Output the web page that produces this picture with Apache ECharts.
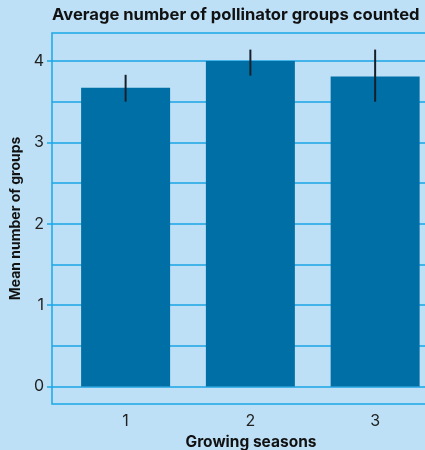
<!DOCTYPE html>
<html>
<head>
<meta charset="utf-8">
<script src="https://cdn.jsdelivr.net/npm/echarts@6/dist/echarts.min.js"></script>
<style>
  html, body { margin: 0; padding: 0; background: #bde0f6; }
  #chart { width: 425px; height: 450px; }
</style>
</head>
<body>
<div id="chart"></div>
<script>
// Growing seasons and mean pollinator groups counted, with error range
const seasons = [1, 2, 3];
const meanGroups = [3.67, 4.0, 3.81];
const errLow = [3.50, 3.82, 3.50];
const errHigh = [3.83, 4.14, 4.14];
const yTickValues = [0, 1, 2, 3, 4];
const gridValues = [0, 0.5, 1, 1.5, 2, 2.5, 3, 3.5, 4];

const lineBlue = '#1aa6e6';
const barBlue = '#006fa6';
const font = 'Inter, "Open Sans", sans-serif';

const chart = echarts.init(document.getElementById('chart'), null, { renderer: 'canvas' });

chart.setOption({
  backgroundColor: '#bde0f6',
  animation: false,
  title: {
    text: 'Average number of pollinator groups counted',
    left: 52,
    top: 6,
    padding: 0,
    textStyle: { fontFamily: font, fontSize: 16.6, fontWeight: 'bold', color: '#111' }
  },
  grid: {
    left: 52, top: 33, right: -25, bottom: 46,
    outerBoundsMode: 'none',
    containLabel: false,
    show: true,
    borderColor: lineBlue,
    borderWidth: 1.5,
    backgroundColor: 'transparent'
  },
  xAxis: {
    type: 'value',
    min: 0.41,
    max: 3.6,
    name: 'Growing seasons',
    nameLocation: 'middle',
    nameGap: 25,
    nameTextStyle: { fontFamily: font, fontSize: 15.5, fontWeight: 'bold', color: '#111' },
    axisLine: { show: false },
    axisTick: { show: false },
    splitLine: { show: false },
    axisLabel: {
      customValues: seasons,
      margin: 9,
      fontFamily: font, fontSize: 16, color: '#222'
    }
  },
  yAxis: {
    type: 'value',
    min: -0.216,
    max: 4.344,
    name: 'Mean number of groups',
    nameLocation: 'middle',
    nameGap: 22,
    nameRotate: 90,
    nameTextStyle: { fontFamily: font, fontSize: 14, fontWeight: 'bold', color: '#111' },
    axisLine: { show: false },
    axisTick: {
      show: true, customValues: yTickValues, length: 5,
      lineStyle: { color: lineBlue, width: 1.5 }
    },
    splitLine: { show: false },
    axisLabel: {
      customValues: yTickValues,
      margin: 8,
      fontFamily: font, fontSize: 16, color: '#222'
    }
  },
  series: [
    {
      type: 'bar',
      data: seasons.map((s, i) => [s, meanGroups[i]]),
      barWidth: 89,
      itemStyle: { color: barBlue },
      z: 2,
      markLine: {
        silent: true,
        symbol: 'none',
        z: 1,
        label: { show: false },
        lineStyle: { color: lineBlue, width: 1.5, type: 'solid' },
        data: gridValues.map(v => ({ yAxis: v }))
      }
    },
    {
      type: 'custom',
      z: 3,
      data: seasons.map((s, i) => [s, errLow[i], errHigh[i]]),
      renderItem: function (params, api) {
        const lo = api.coord([api.value(0), api.value(1)]);
        const hi = api.coord([api.value(0), api.value(2)]);
        return {
          type: 'line',
          shape: { x1: lo[0], y1: lo[1], x2: hi[0], y2: hi[1] },
          style: { stroke: '#17202a', lineWidth: 2 }
        };
      }
    }
  ]
});
</script>
</body>
</html>
